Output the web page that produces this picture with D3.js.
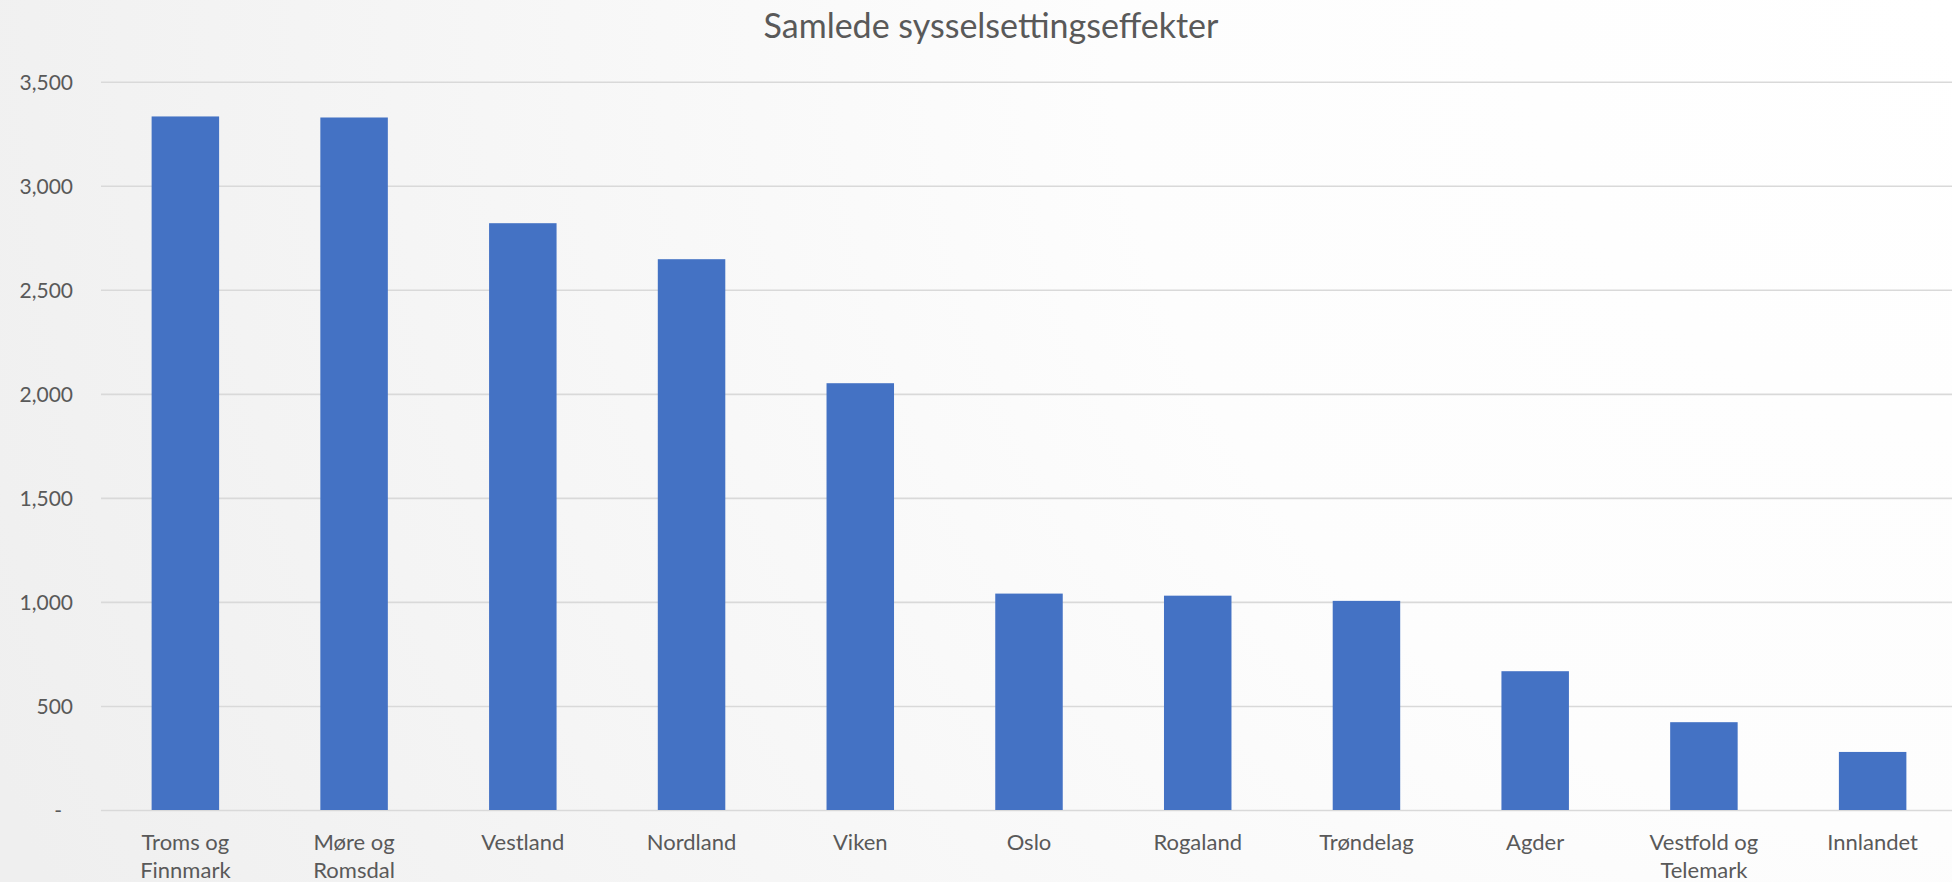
<!DOCTYPE html>
<html>
<head>
<meta charset="utf-8">
<script src="https://cdn.jsdelivr.net/npm/d3@7"></script>
<style>
  body { margin: 0; background: #fff; }
  text { font-family: Lato, "Open Sans", sans-serif; fill: #595959; }
</style>
</head>
<body>
<div id="chart"></div>
<script>
// regions and total employment effects
const regions = ["Troms og Finnmark", "Møre og Romsdal", "Vestland", "Nordland", "Viken",
    "Oslo", "Rogaland", "Trøndelag", "Agder", "Vestfold og Telemark", "Innlandet"];
const regionLines = [["Troms og", "Finnmark"], ["Møre og", "Romsdal"], ["Vestland"], ["Nordland"], ["Viken"],
    ["Oslo"], ["Rogaland"], ["Trøndelag"], ["Agder"], ["Vestfold og", "Telemark"], ["Innlandet"]];
const effects = [3333, 3328, 2820, 2647, 2051, 1040, 1030, 1005, 667, 422, 279];
const yTicks = [0, 500, 1000, 1500, 2000, 2500, 3000, 3500];
const title = "Samlede sysselsettingseffekter";

const W = 1952, H = 882;
const margin = { top: 81.7, right: -5, bottom: 72, left: 101 };

const svg = d3.select("#chart")
    .append("svg")
    .attr("width", W)
    .attr("height", H);

// soft background shading, light grey bottom-left to white top-right
const defs = svg.append("defs");
const grad = defs.append("radialGradient")
    .attr("id", "bg")
    .attr("gradientUnits", "userSpaceOnUse")
    .attr("cx", W).attr("cy", 0).attr("r", 2100);
grad.append("stop").attr("offset", "0%").attr("stop-color", "#ffffff");
grad.append("stop").attr("offset", "40%").attr("stop-color", "#fdfdfd");
grad.append("stop").attr("offset", "100%").attr("stop-color", "#efefef");
svg.append("rect").attr("width", W).attr("height", H).attr("fill", "url(#bg)");

const x = d3.scaleBand()
    .domain(regions)
    .range([margin.left, W - margin.right])
    .paddingInner(0.6)
    .paddingOuter(0.3);

const y = d3.scaleLinear()
    .domain([0, 3500])
    .range([H - margin.bottom, margin.top]);

// gridlines + y labels
const yAxis = svg.append("g")
    .attr("transform", `translate(${margin.left},0)`)
    .call(d3.axisLeft(y)
        .tickValues(yTicks)
        .tickSize(-(W - margin.left - margin.right))
        .tickPadding(28)
        .tickFormat(d => d === 0 ? "-" : d3.format(",")(d)));
yAxis.select(".domain").remove();
yAxis.selectAll("line").attr("stroke", "#d9d9d9").attr("stroke-width", 1.6);
yAxis.selectAll("text")
    .style("font-size", "21px")
    .attr("fill", "#595959")
    .attr("dy", "0.35em");
yAxis.selectAll("text").filter(d => d === 0).attr("x", -39);

// bars
svg.selectAll(".bar")
    .data(effects)
    .enter()
    .append("rect")
    .attr("class", "bar")
    .attr("x", (d, i) => x(regions[i]))
    .attr("y", d => y(d))
    .attr("width", x.bandwidth())
    .attr("height", d => y(0) - y(d))
    .attr("fill", "#4472c4");

// category labels, wrapped like the original
const labels = svg.selectAll(".xlab")
    .data(regions)
    .enter()
    .append("text")
    .attr("class", "xlab")
    .attr("text-anchor", "middle")
    .style("font-size", "22px");
labels.each(function(d, i) {
    const t = d3.select(this);
    regionLines[i].forEach((line, j) => {
        t.append("tspan")
            .attr("x", x(d) + x.bandwidth() / 2)
            .attr("y", 850 + j * 28)
            .text(line);
    });
});

svg.append("text")
    .attr("x", 991)
    .attr("y", 38)
    .attr("text-anchor", "middle")
    .style("font-size", "34px")
    .text(title);
</script>
</body>
</html>
